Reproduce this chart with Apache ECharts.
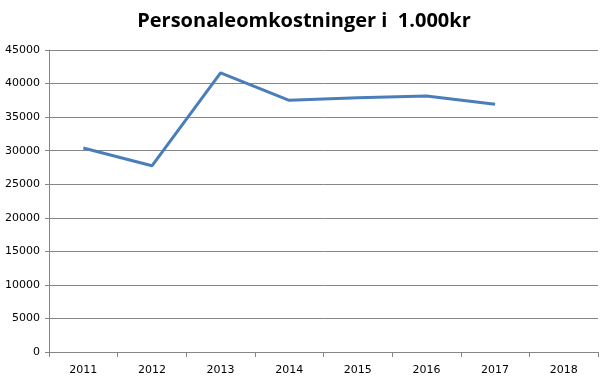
<!DOCTYPE html>
<html><head><meta charset="utf-8">
<script src="https://cdn.jsdelivr.net/npm/echarts@6/dist/echarts.min.js"></script>
<style>html,body{margin:0;padding:0;background:#fff}#c{width:608px;height:380px}</style>
</head><body><div id="c"></div>
<script>
const title = 'Personaleomkostninger i  1.000kr';
const categories = ['2011','2012','2013','2014','2015','2016','2017','2018'];
const values = [30400, 27750, 41600, 37500, 37900, 38150, 36900, null];
const yMin = 0, yMax = 45000, yStep = 5000;

const chart = echarts.init(document.getElementById('c'));
chart.setOption({
  animation: false,
  title: {
    text: title, left: 'center', top: 6,
    textStyle: {fontFamily: 'Open Sans', fontWeight: 'bold', fontSize: 20, color: '#000'}
  },
  grid: {left: 49, right: 10, top: 50, bottom: 28, containLabel: false},
  xAxis: {
    type: 'category', data: categories, boundaryGap: true,
    axisLine: {lineStyle: {color: '#868686', width: 1}},
    axisTick: {show: true, alignWithLabel: false, length: 5, lineStyle: {color: '#868686'}},
    axisLabel: {color: '#000', fontFamily: 'DejaVu Sans', fontSize: 11, margin: 13},
    splitLine: {show: false}
  },
  yAxis: {
    type: 'value', min: yMin, max: yMax, interval: yStep,
    axisLine: {show: true, lineStyle: {color: '#868686', width: 1}},
    axisTick: {show: true, length: 4, lineStyle: {color: '#868686'}},
    axisLabel: {color: '#000', fontFamily: 'DejaVu Sans', fontSize: 11, margin: 9,
      formatter: v => String(v)},
    splitLine: {lineStyle: {color: '#868686', width: 1}}
  },
  series: [{
    type: 'line', data: values, symbol: 'none', connectNulls: false,
    lineStyle: {color: '#4a7ebb', width: 3}
  }]
});
</script></body></html>
